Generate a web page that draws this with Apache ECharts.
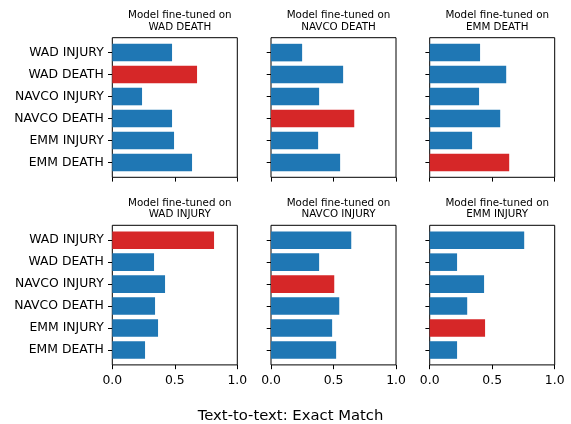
<!DOCTYPE html>
<html>
<head>
<meta charset="utf-8">
<script src="https://cdn.jsdelivr.net/npm/echarts@6/dist/echarts.min.js"></script>
<style>html,body{margin:0;padding:0;background:#fff;}#chart{width:571px;height:424px;}</style>
</head>
<body>
<div id="chart"></div>
<script>
// ---- data ----
const categories = ['WAD INJURY', 'WAD DEATH', 'NAVCO INJURY', 'NAVCO DEATH', 'EMM INJURY', 'EMM DEATH'];
const panelTrainedOn = ['WAD DEATH', 'NAVCO DEATH', 'EMM DEATH', 'WAD INJURY', 'NAVCO INJURY', 'EMM INJURY'];
const valsWadDeath    = [0.478, 0.678, 0.238, 0.478, 0.494, 0.638];
const valsNavcoDeath  = [0.249, 0.577, 0.385, 0.666, 0.377, 0.553];
const valsEmmDeath    = [0.403, 0.612, 0.395, 0.564, 0.339, 0.636];
const valsWadInjury   = [0.814, 0.334, 0.422, 0.342, 0.366, 0.262];
const valsNavcoInjury = [0.642, 0.385, 0.506, 0.546, 0.489, 0.521];
const valsEmmInjury   = [0.756, 0.219, 0.435, 0.300, 0.443, 0.219];
const xTicks = [0.0, 0.5, 1.0];
const figureLabel = 'Text-to-text: Exact Match';
const titlePrefix = 'Model fine-tuned on';

const panelValues = [valsWadDeath, valsNavcoDeath, valsEmmDeath, valsWadInjury, valsNavcoInjury, valsEmmInjury];

// ---- layout / style ----
const FONT = 'DejaVu Sans';
const BLUE = '#1f77b4', RED = '#d62728';
const colLefts = [112.3, 271.0, 429.7];
const panelW = 125.0;
const rowTops = [37.7, 225.3];
const panelH = 139.6;
const innerPad = 3.9;
const tickLen = 4.3;

const chart = echarts.init(document.getElementById('chart'), null, {renderer: 'canvas'});

const grids = [], xAxes = [], yAxes = [], series = [], titles = [];
for (let p = 0; p < 6; p++) {
  const r = Math.floor(p / 3), c = p % 3;
  const left = colLefts[c], top = rowTops[r];
  grids.push({left: left, top: top, width: panelW, height: panelH, show: true,
    borderColor: '#000', borderWidth: 1, backgroundColor: 'transparent', containLabel: false});
  grids.push({left: left, top: top + innerPad, width: panelW, height: panelH - 2 * innerPad, containLabel: false});
  const gF = 2 * p, gB = 2 * p + 1;
  xAxes.push({type: 'value', gridIndex: gF, min: xTicks[0], max: xTicks[xTicks.length - 1],
    interval: xTicks[1] - xTicks[0],
    axisLine: {show: false},
    axisTick: {show: true, length: tickLen, lineStyle: {color: '#000', width: 1}},
    axisLabel: {show: r === 1, margin: 9.6, fontFamily: FONT, fontSize: 12.4, color: '#000',
      formatter: v => v.toFixed(1)},
    splitLine: {show: false}});
  yAxes.push({type: 'value', gridIndex: gF, show: false});
  xAxes.push({type: 'value', gridIndex: gB, min: xTicks[0], max: xTicks[xTicks.length - 1], show: false});
  yAxes.push({type: 'category', gridIndex: gB, data: categories, inverse: true,
    axisLine: {show: false},
    axisTick: {show: true, alignWithLabel: true, length: tickLen, lineStyle: {color: '#000', width: 1}},
    axisLabel: {show: c === 0, margin: 8.6, fontFamily: FONT, fontSize: 12.4, color: '#000'},
    splitLine: {show: false}});
  series.push({type: 'bar', xAxisIndex: gB, yAxisIndex: gB, barWidth: '80%',
    data: panelValues[p].map((v, i) => ({value: v,
      itemStyle: {color: categories[i] === panelTrainedOn[p] ? RED : BLUE}})),
    silent: true, animation: false, z: 1});
  titles.push({text: titlePrefix + '\n' + panelTrainedOn[p],
    left: left + panelW / 2, top: top - 33.2, textAlign: 'center',
    textStyle: {fontFamily: FONT, fontSize: 10.33, fontWeight: 'normal', color: '#000', lineHeight: 11.6}});
}
titles.push({text: figureLabel, left: 285.5, top: 403.5, textAlign: 'center',
  textStyle: {fontFamily: FONT, fontSize: 14.8, fontWeight: 'normal', color: '#000'}});

chart.setOption({
  animation: false,
  backgroundColor: '#fff',
  title: titles,
  grid: grids,
  xAxis: xAxes,
  yAxis: yAxes,
  series: series
});
</script>
</body>
</html>
